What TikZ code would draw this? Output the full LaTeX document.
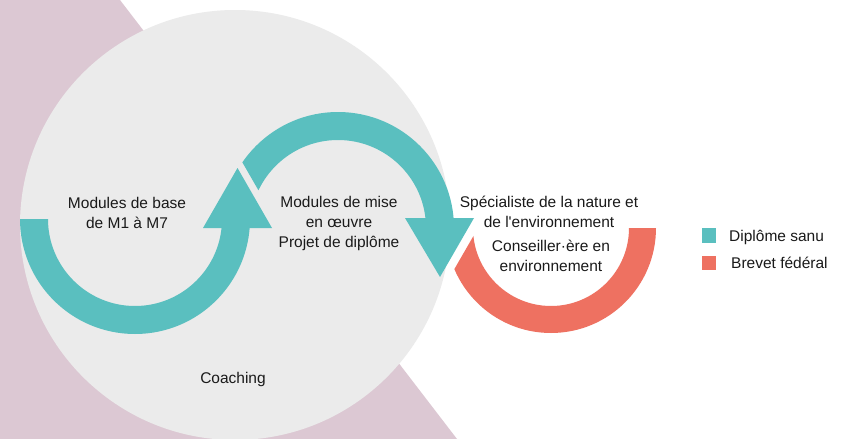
\documentclass[tikz,border=0pt]{standalone}
\usepackage{fontspec}
\setmainfont{Liberation Sans}
\definecolor{tealc}{HTML}{5ABFBF}
\definecolor{orangec}{HTML}{EE7161}
\definecolor{pinkbg}{HTML}{DCC8D3}
\definecolor{graycirc}{HTML}{EBEBEB}
\definecolor{txt}{HTML}{1A1A1A}
\tikzset{
  lbl/.style={align=center, anchor=base, text=txt, inner sep=0pt,
    font=\fontsize{15.5}{20}\selectfont},
  leg/.style={anchor=base west, text=txt, inner sep=0pt,
    font=\fontsize{15.5}{20}\selectfont},
}
\begin{document}
\begin{tikzpicture}[x=1pt,y=-1pt]
\useasboundingbox (0,0) rectangle (852,439);
\fill[white] (0,0) rectangle (852,439);
% background
\fill[pinkbg] (0,0) -- (120,0) -- (457,439) -- (0,439) -- cycle;
\fill[graycirc] (235,225) circle (215);
% lower teal band
\begin{scope}
  \clip (0,219) rectangle (300,400);
  \fill[tealc, even odd rule] (135,219) circle (115) (135,219) circle (87);
\end{scope}
% upper teal band
\begin{scope}
  \clip (143.9,-8.9) -- (343.3,337.9) -- (600,337.9) -- (600,-8.9) -- cycle;
  \clip (200,0) rectangle (500,228);
  \fill[tealc, even odd rule] (338,228) circle (116) (338,228) circle (88);
\end{scope}
% orange band
\begin{scope}
  \clip (547.2,108) -- (347.5,454.5) -- (800,454.5) -- (800,108) -- cycle;
  \clip (400,228) rectangle (700,400);
  \fill[orangec, even odd rule] (551,228) circle (105) (551,228) circle (78);
\end{scope}
% arrowheads
\fill[tealc] (203,228) -- (272,228) -- (237.5,168) -- cycle;
\fill[tealc] (405,218) -- (474,218) -- (440,277) -- cycle;
% labels
\node[lbl] (base) at (127,228) {Modules de base\\de M1 à M7};
\node[lbl] (mise) at (339,247.5) {Modules de mise\\en œuvre\\Projet de diplôme};
\node[lbl] (spec) at (549,227.5) {Spécialiste de la nature et\\de l\textquotesingle environnement};
\node[lbl] (cons) at (551,271) {Conseiller·ère en\\environnement};
\node[lbl] (coach) at (233,383) {Coaching};
% legend
\fill[tealc] (702,228) rectangle (716,243);
\node[leg] (l1) at (729,241) {Diplôme sanu};
\fill[orangec] (702,256) rectangle (716,270);
\node[leg] (l2) at (731,268) {Brevet fédéral};
\end{tikzpicture}
\end{document}
